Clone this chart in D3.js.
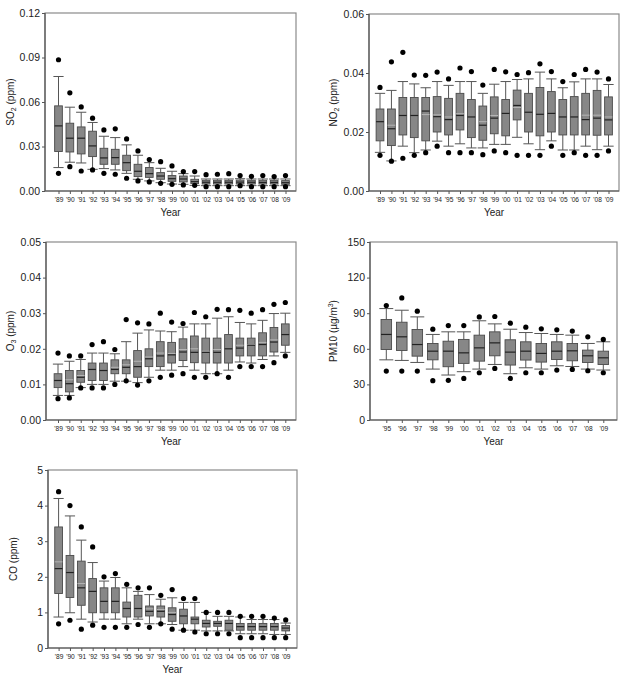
<!DOCTYPE html>
<html>
<head>
<meta charset="utf-8">
<script src="https://cdn.jsdelivr.net/npm/d3@7"></script>
<style>
  body { margin: 0; background: #fff; }
  svg { font-family: Arial, "Liberation Sans", sans-serif; }
  .axis path { display: none; }
  .axis line { stroke: #555; }
  .axis text { fill: #222; }
</style>
</head>
<body>
<div id="chart"></div>
<script>
// category labels
const years89 = ["'89", "'90", "'91", "'92", "'93", "'94", "'95", "'96", "'97", "'98", "'99",
  "'00", "'01", "'02", "'03", "'04", "'05", "'06", "'07", "'08", "'09"]
const years95 = ["'95", "'96", "'97", "'98", "'99", "'00", "'01", "'02", "'03", "'04", "'05",
  "'06", "'07", "'08", "'09"]

// SO2 (ppm)
const so2HiOut = [0.0885, 0.0662, 0.0567, 0.0491, 0.0412, 0.0419, 0.0351, 0.027, 0.0212, 0.0198, 0.0169, 0.0131, 0.0131, 0.011, 0.0113, 0.0117, 0.0104, 0.0099, 0.0104, 0.0097, 0.0104]
const so2WhiskHi = [0.0772, 0.0565, 0.0531, 0.0462, 0.0369, 0.036, 0.0311, 0.0241, 0.0191, 0.0153, 0.0133, 0.0117, 0.0101, 0.0081, 0.0081, 0.0081, 0.0083, 0.0081, 0.0081, 0.0081, 0.0081]
const so2Q3 = [0.0574, 0.0457, 0.0432, 0.0403, 0.0288, 0.0281, 0.0241, 0.018, 0.0158, 0.0124, 0.0104, 0.0101, 0.0079, 0.0072, 0.0072, 0.0072, 0.0074, 0.0072, 0.0072, 0.0072, 0.007]
const so2Median = [0.0439, 0.0356, 0.0356, 0.0304, 0.0223, 0.0225, 0.0191, 0.0133, 0.0117, 0.0101, 0.0083, 0.0081, 0.0063, 0.0059, 0.0059, 0.0059, 0.006, 0.0059, 0.0058, 0.0058, 0.0056]
const so2Q1 = [0.0266, 0.0263, 0.025, 0.0232, 0.018, 0.018, 0.0137, 0.0097, 0.0092, 0.0079, 0.0065, 0.0061, 0.005, 0.0047, 0.0047, 0.0047, 0.0047, 0.0047, 0.0047, 0.0047, 0.0045]
const so2WhiskLo = [0.0158, 0.0194, 0.0189, 0.0146, 0.0151, 0.0142, 0.0119, 0.0079, 0.0068, 0.0056, 0.0047, 0.0045, 0.0038, 0.0036, 0.0036, 0.0036, 0.0036, 0.0036, 0.0036, 0.0036, 0.0036]
const so2LoOut = [0.0119, 0.0164, 0.0135, 0.0142, 0.0119, 0.0113, 0.0086, 0.0068, 0.0061, 0.0052, 0.0045, 0.0041, 0.0038, 0.0029, 0.0029, 0.0029, 0.0036, 0.0029, 0.0029, 0.0029, 0.0029]

// NO2 (ppm)
const no2HiOut = [0.0351, 0.0438, 0.047, 0.0393, 0.0392, 0.0403, 0.038, 0.0417, 0.0405, 0.0359, 0.0412, 0.0404, 0.0395, 0.0401, 0.0431, 0.0405, 0.0371, 0.0395, 0.0412, 0.0403, 0.038]
const no2WhiskHi = [0.0331, 0.0341, 0.0371, 0.0363, 0.035, 0.0371, 0.0358, 0.0371, 0.0371, 0.0331, 0.0362, 0.0371, 0.0378, 0.038, 0.0403, 0.038, 0.035, 0.037, 0.038, 0.038, 0.0361]
const no2Q3 = [0.0278, 0.0278, 0.0317, 0.0317, 0.0317, 0.032, 0.0314, 0.0331, 0.031, 0.0288, 0.0319, 0.031, 0.0342, 0.0331, 0.0351, 0.0337, 0.031, 0.032, 0.0331, 0.0341, 0.0319]
const no2Median = [0.0235, 0.0211, 0.0256, 0.0256, 0.0271, 0.0252, 0.0242, 0.0256, 0.0251, 0.0223, 0.0247, 0.0263, 0.029, 0.0267, 0.026, 0.0263, 0.0251, 0.0251, 0.0242, 0.0247, 0.0241]
const no2Mean = [null, 0.0223, null, null, 0.0259, 0.0258, 0.0251, 0.0262, null, 0.0235, 0.0256, null, 0.0283, null, null, null, null, null, 0.0257, 0.0257, 0.0251]
const no2Q1 = [0.017, 0.0154, 0.019, 0.0181, 0.017, 0.02, 0.019, 0.0207, 0.0181, 0.0172, 0.0194, 0.0187, 0.0241, 0.02, 0.0187, 0.02, 0.019, 0.019, 0.019, 0.0189, 0.019]
const no2WhiskLo = [0.0131, 0.0102, 0.0152, 0.013, 0.0139, 0.0169, 0.0152, 0.016, 0.0146, 0.0146, 0.0158, 0.0158, 0.0182, 0.016, 0.014, 0.017, 0.0139, 0.0139, 0.0152, 0.014, 0.0152]
const no2LoOut = [0.0121, 0.0101, 0.0111, 0.0121, 0.013, 0.0152, 0.013, 0.013, 0.013, 0.0123, 0.0136, 0.013, 0.0121, 0.0121, 0.0121, 0.0152, 0.0121, 0.013, 0.0121, 0.0121, 0.0136]

// O3 (ppm)
const o3HiOut = [0.0188, 0.018, 0.018, 0.0212, 0.022, 0.0198, 0.0282, 0.0273, 0.027, 0.030, 0.0275, 0.0271, 0.0302, 0.029, 0.0311, 0.031, 0.0308, 0.030, 0.031, 0.0325, 0.033]
const o3WhiskHi = [0.0157, 0.0165, 0.017, 0.0188, 0.0188, 0.0186, 0.022, 0.0244, 0.0253, 0.025, 0.0248, 0.0261, 0.027, 0.027, 0.0286, 0.029, 0.0274, 0.027, 0.028, 0.0299, 0.030]
const o3Q3 = [0.013, 0.0139, 0.0139, 0.016, 0.016, 0.0169, 0.0169, 0.0195, 0.020, 0.022, 0.0218, 0.0228, 0.0236, 0.023, 0.023, 0.024, 0.023, 0.023, 0.0245, 0.026, 0.027]
const o3Median = [0.0111, 0.0102, 0.012, 0.0142, 0.0139, 0.0142, 0.0148, 0.015, 0.0172, 0.018, 0.0183, 0.0191, 0.019, 0.019, 0.019, 0.020, 0.0202, 0.021, 0.0212, 0.0219, 0.024]
const o3Mean = [null, 0.0113, 0.0125, null, null, 0.0148, 0.0155, 0.0165, 0.0177, 0.0188, 0.0187, 0.0198, 0.020, 0.0193, 0.0198, null, 0.021, 0.0212, 0.0218, 0.0225, null]
const o3Q1 = [0.0091, 0.0079, 0.0106, 0.0111, 0.0111, 0.013, 0.013, 0.012, 0.015, 0.015, 0.016, 0.0167, 0.0161, 0.016, 0.016, 0.016, 0.018, 0.018, 0.018, 0.0191, 0.021]
const o3WhiskLo = [0.0069, 0.0069, 0.0091, 0.010, 0.010, 0.0109, 0.0109, 0.0105, 0.012, 0.014, 0.014, 0.015, 0.014, 0.013, 0.013, 0.014, 0.0163, 0.016, 0.017, 0.018, 0.019]
const o3LoOut = [0.006, 0.0062, 0.009, 0.009, 0.009, 0.010, 0.011, 0.0098, 0.011, 0.012, 0.0126, 0.013, 0.012, 0.012, 0.013, 0.012, 0.015, 0.015, 0.015, 0.0161, 0.018]

// PM10 (ug/m3)
const pmHiOut = [96.4, 102.9, 91.7, 76.5, 79.6, 79.6, 86.9, 87.2, 81.6, 78.2, 76.8, 76.0, 74.9, 70.1, 67.9]
const pmWhiskHi = [93.9, 92.5, 86.9, 72.1, 74.3, 74.3, 83.6, 81.0, 76.5, 73.7, 72.9, 72.1, 71.5, 64.5, 65.9]
const pmQ3 = [84.7, 82.4, 76.3, 64.5, 66.4, 67.9, 71.5, 74.3, 67.6, 65.9, 64.5, 65.9, 64.5, 58.9, 58.0]
const pmMedian = [72.1, 70.1, 63.6, 58.0, 58.0, 56.6, 60.8, 65.0, 57.2, 58.0, 56.1, 58.0, 58.3, 54.1, 52.4]
const pmQ1 = [59.4, 58.6, 53.8, 50.7, 44.9, 47.7, 49.6, 54.1, 46.3, 50.5, 48.8, 51.0, 49.9, 48.5, 46.8]
const pmWhiskLo = [50.7, 50.2, 48.5, 42.9, 37.9, 40.7, 42.9, 46.8, 39.0, 44.0, 42.9, 45.7, 45.1, 42.9, 42.1]
const pmLoOut = [41.2, 41.2, 41.2, 33.1, 33.4, 35.0, 39.8, 43.5, 35.0, 39.8, 39.8, 42.1, 42.6, 41.5, 39.8]

// CO (ppm)
const coHiOut = [4.39, 4.0, 3.4, 2.84, 2.0, 2.09, 1.79, 1.69, 1.69, 1.48, 1.64, 1.39, 1.39, 1.0, 1.0, 1.0, 0.89, 0.89, 0.89, 0.84, 0.79]
const coWhiskHi = [4.2, 3.71, 3.03, 2.4, 1.88, 1.98, 1.69, 1.59, 1.5, 1.37, 1.41, 1.28, 1.28, 1.0, 0.89, 0.89, 0.87, 0.8, 0.8, 0.8, 0.7]
const coQ3 = [3.4, 2.6, 2.44, 1.95, 1.69, 1.69, 1.29, 1.48, 1.18, 1.18, 1.13, 1.09, 0.87, 0.78, 0.75, 0.78, 0.69, 0.69, 0.69, 0.69, 0.63]
const coMedian = [2.23, 2.12, 1.69, 1.59, 1.31, 1.31, 1.11, 1.11, 1.03, 1.03, 0.94, 0.9, 0.81, 0.69, 0.69, 0.69, 0.6, 0.6, 0.6, 0.6, 0.56]
const coMean = [2.42, null, 1.81, null, null, null, null, null, 1.1, 1.08, 1.0, null, null, null, null, null, null, null, null, null, null]
const coQ1 = [1.53, 1.42, 1.2, 0.99, 0.99, 0.99, 0.87, 0.87, 0.9, 0.87, 0.75, 0.68, 0.68, 0.59, 0.61, 0.5, 0.5, 0.5, 0.5, 0.5, 0.48]
const coWhiskLo = [0.87, 0.99, 0.81, 0.73, 0.81, 0.81, 0.68, 0.81, 0.68, 0.68, 0.66, 0.5, 0.5, 0.48, 0.48, 0.48, 0.4, 0.4, 0.4, 0.38, 0.38]
const coLoOut = [0.68, 0.78, 0.53, 0.64, 0.58, 0.58, 0.58, 0.66, 0.58, 0.68, 0.53, 0.5, 0.45, 0.4, 0.4, 0.4, 0.29, 0.29, 0.29, 0.29, 0.29]

// y tick values
const so2Ticks = [0, 0.03, 0.06, 0.09, 0.12]
const no2Ticks = [0, 0.02, 0.04, 0.06]
const o3Ticks = [0, 0.01, 0.02, 0.03, 0.04, 0.05]
const pmTicks = [0, 30, 60, 90, 120, 150]
const coTicks = [0, 1, 2, 3, 4, 5]

const WIDTH = 624
const HEIGHT = 674

const svg = d3.select('#chart').append('svg')
  .attr('width', WIDTH)
  .attr('height', HEIGHT)

const boxRows = (cats, hiOut, whiskHi, q3, median, q1, whiskLo, loOut, mean) =>
  cats.map((c, i) => ({
    cat: c,
    hiOut: hiOut[i],
    whiskHi: whiskHi[i],
    q3: q3[i],
    median: median[i],
    q1: q1[i],
    whiskLo: whiskLo[i],
    loOut: loOut[i],
    mean: mean ? mean[i] : null,
  }))

// label parts: [text, kind]  kind = '' | 'sub' | 'sup'
const panels = [
  {
    rows: boxRows(years89, so2HiOut, so2WhiskHi, so2Q3, so2Median, so2Q1, so2WhiskLo, so2LoOut),
    cats: years89, ticks: so2Ticks, fmt: '.2f',
    rect: {left: 45, right: 296, top: 13, bottom: 191}, pad: [13.5, 10.5],
    label: [['SO', ''], ['2', 'sub'], [' (ppm)', '']], labelX: 10,
  },
  {
    rows: boxRows(years89, no2HiOut, no2WhiskHi, no2Q3, no2Median, no2Q1, no2WhiskLo, no2LoOut, no2Mean),
    cats: years89, ticks: no2Ticks, fmt: '.2f',
    rect: {left: 369, right: 619, top: 14, bottom: 191}, pad: [11, 10.5],
    label: [['NO', ''], ['2', 'sub'], [' (ppm)', '']], labelX: 333,
  },
  {
    rows: boxRows(years89, o3HiOut, o3WhiskHi, o3Q3, o3Median, o3Q1, o3WhiskLo, o3LoOut, o3Mean),
    cats: years89, ticks: o3Ticks, fmt: '.2f',
    rect: {left: 46, right: 296, top: 242, bottom: 420}, pad: [12, 10.7],
    label: [['O', ''], ['3', 'sub'], [' (ppm)', '']], labelX: 10,
  },
  {
    rows: boxRows(years95, pmHiOut, pmWhiskHi, pmQ3, pmMedian, pmQ1, pmWhiskLo, pmLoOut),
    cats: years95, ticks: pmTicks, fmt: 'd',
    rect: {left: 370, right: 617, top: 242, bottom: 420}, pad: [16.3, 13.7],
    label: [['PM10 (\u00b5g/m', ''], ['3', 'sup'], [')', '']], labelX: 333,
  },
  {
    rows: boxRows(years89, coHiOut, coWhiskHi, coQ3, coMedian, coQ1, coWhiskLo, coLoOut, coMean),
    cats: years89, ticks: coTicks, fmt: 'd',
    rect: {left: 48, right: 297, top: 470, bottom: 648}, pad: [10.6, 11.3],
    label: [['CO (ppm)', '']], labelX: 13,
  },
]

function drawPanel (p) {
  const {left, right, top, bottom} = p.rect
  const g = svg.append('g')

  const x = d3.scalePoint()
    .domain(p.cats)
    .range([left + p.pad[0], right - p.pad[1]])
  const y = d3.scaleLinear()
    .domain([p.ticks[0], p.ticks[p.ticks.length - 1]])
    .range([bottom, top])

  const step = x.step()
  const boxW = step * 0.68
  const capW = step * 0.9

  // frame
  g.append('rect')
    .attr('x', left).attr('y', top)
    .attr('width', right - left).attr('height', bottom - top)
    .attr('fill', 'none')
    .attr('stroke', '#8a8a8a')
    .attr('stroke-width', 1.2)

  g.append('g')
    .attr('class', 'axis')
    .attr('transform', `translate(${left},0)`)
    .call(d3.axisLeft(y).tickValues(p.ticks).tickSize(3).tickSizeOuter(0).tickPadding(2)
      .tickFormat(d3.format(p.fmt)))
    .selectAll('text').style('font-size', '10.5px')

  g.append('g')
    .attr('class', 'axis')
    .attr('transform', `translate(0,${bottom})`)
    .call(d3.axisBottom(x).tickSize(3).tickSizeOuter(0).tickPadding(3))
    .selectAll('text').style('font-size', '6.6px')

  // axis lines
  g.append('path')
    .attr('d', `M${left},${top}V${bottom}H${right}`)
    .attr('fill', 'none')
    .attr('stroke', '#555')
    .attr('stroke-width', 1.2)

  const box = g.selectAll('.box')
    .data(p.rows)
    .enter()
    .append('g')
    .attr('class', 'box')
    .attr('transform', d => `translate(${x(d.cat)},0)`)

  // whiskers + caps
  box.append('line')
    .attr('y1', d => y(d.whiskHi)).attr('y2', d => y(d.q3))
    .attr('stroke', '#555')
  box.append('line')
    .attr('y1', d => y(d.q1)).attr('y2', d => y(d.whiskLo))
    .attr('stroke', '#555')
  box.append('line')
    .attr('x1', -capW / 2).attr('x2', capW / 2)
    .attr('y1', d => y(d.whiskHi)).attr('y2', d => y(d.whiskHi))
    .attr('stroke', '#555')
  box.append('line')
    .attr('x1', -capW / 2).attr('x2', capW / 2)
    .attr('y1', d => y(d.whiskLo)).attr('y2', d => y(d.whiskLo))
    .attr('stroke', '#555')

  box.append('rect')
    .attr('x', -boxW / 2)
    .attr('width', boxW)
    .attr('y', d => y(d.q3))
    .attr('height', d => Math.max(0.5, y(d.q1) - y(d.q3)))
    .attr('fill', '#878787')
    .attr('stroke', '#4a4a4a')
    .attr('stroke-width', 0.9)

  box.filter(d => d.mean != null)
    .append('line')
    .attr('x1', -boxW / 2).attr('x2', boxW / 2)
    .attr('y1', d => y(d.mean)).attr('y2', d => y(d.mean))
    .attr('stroke', '#b5b5b5')
    .attr('stroke-width', 1)

  box.append('line')
    .attr('x1', -boxW / 2).attr('x2', boxW / 2)
    .attr('y1', d => y(d.median)).attr('y2', d => y(d.median))
    .attr('stroke', '#222')
    .attr('stroke-width', 1.2)

  // outliers
  box.append('circle')
    .attr('cy', d => y(d.hiOut))
    .attr('r', 2.6)
    .attr('fill', '#000')
  box.append('circle')
    .attr('cy', d => y(d.loOut))
    .attr('r', 2.6)
    .attr('fill', '#000')

  // titles
  g.append('text')
    .attr('x', (left + right) / 2)
    .attr('y', bottom + 25)
    .attr('text-anchor', 'middle')
    .style('font-size', '10px')
    .attr('fill', '#222')
    .text('Year')

  const yl = g.append('text')
    .attr('transform', `translate(${p.labelX},${(top + bottom) / 2}) rotate(-90)`)
    .attr('text-anchor', 'middle')
    .attr('dy', '0.35em')
    .style('font-size', '10px')
    .attr('fill', '#222')

  let shift = 0
  p.label.forEach(([t, kind]) => {
    const ts = yl.append('tspan').text(t)
    let target = 0
    if (kind === 'sub') target = 2.5
    if (kind === 'sup') target = -4
    if (target !== shift) ts.attr('dy', target - shift)
    if (kind) ts.style('font-size', '7px')
    shift = target
  })
}

panels.forEach(drawPanel)
</script>
</body>
</html>
